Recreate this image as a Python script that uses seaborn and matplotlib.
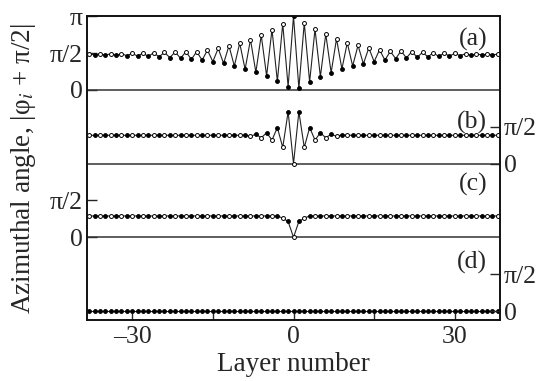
import numpy as np
import pandas as pd
import matplotlib
matplotlib.use("Agg")
import matplotlib.pyplot as plt
import seaborn as sns

# ---------------- data (values in units of pi) ----------------
layers = list(range(-38, 39))

panel_a = [0.485, 0.478, 0.487, 0.475, 0.49, 0.47, 0.493, 0.465, 0.497, 0.46,
           0.50, 0.455, 0.505, 0.45, 0.51, 0.44, 0.515, 0.43, 0.52, 0.415,
           0.52, 0.405, 0.54, 0.385, 0.565, 0.36, 0.60, 0.325, 0.635, 0.28,
           0.685, 0.24, 0.745, 0.19, 0.82, 0.118, 0.90, 0.045,
           1.0,
           0.023, 0.91, 0.11, 0.825, 0.18, 0.76, 0.235, 0.695, 0.285, 0.64,
           0.325, 0.605, 0.355, 0.57, 0.385, 0.545, 0.405, 0.525, 0.425, 0.53,
           0.435, 0.52, 0.445, 0.51, 0.45, 0.505, 0.455, 0.50, 0.46, 0.497,
           0.465, 0.493, 0.47, 0.49, 0.475, 0.487, 0.478, 0.485]

panel_b = [0.385] * 29 + [0.39, 0.37, 0.40, 0.35, 0.42, 0.32, 0.49, 0.22, 0.705,
           0.0,
           0.705, 0.22, 0.49, 0.32, 0.42, 0.35, 0.40, 0.37, 0.39] + [0.385] * 29

panel_c = [0.29] * 36 + [0.26, 0.215, 0.0, 0.215, 0.26] + [0.29] * 36

panel_d = [0.0] * 77

panel_names = ["(a)", "(b)", "(c)", "(d)"]
panel_values = [panel_a, panel_b, panel_c, panel_d]
panel_offsets = [3, 2, 1, 0]

left_ticks = [1, 1.5, 3, 3.5, 4]
left_labels = ["0", "π/2", "0", "π/2", "π"]
right_ticks = [0, 0.5, 2, 2.5]
right_labels = ["0", "π/2", "0", "π/2"]
x_ticks = [-30, -15, 0, 15, 30]
x_labels = ["\u201330", "", "0", "", "30"]

# ---------------- build table ----------------
rows = []
for name, vals, off in zip(panel_names, panel_values, panel_offsets):
    for n, v in zip(layers, vals):
        if name == "(d)":
            filled = True
        elif name == "(a)":
            filled = (n % 2 == 1) or n == 0
        else:
            filled = (n % 2 == 1)
        rows.append(dict(panel=name, layer=n, y=v + off, filled=filled))
df = pd.DataFrame(rows)

# ---------------- style ----------------
sns.set_style("ticks")
plt.rcParams["font.family"] = ["Liberation Serif", "DejaVu Serif"]
plt.rcParams["mathtext.fontset"] = "stix"
FS = 18.5
FSL = 19.5

fig = plt.figure(figsize=(5.4, 3.81), dpi=100)
ax = fig.add_axes([87 / 540, 1 - 320 / 381, 413 / 540, 304 / 381])

for yv in [1, 2, 3]:
    ax.axhline(yv, color="#333333", lw=1.1, zorder=1)

sns.lineplot(data=df, x="layer", y="y", units="panel", estimator=None,
             color="#222222", lw=0.8, ax=ax, legend=False, sort=False, zorder=2)
sns.scatterplot(data=df[df.filled], x="layer", y="y", color="black",
                edgecolor="black", s=8, linewidth=0.6, ax=ax, legend=False, zorder=3)
sns.scatterplot(data=df[~df.filled], x="layer", y="y", color="white",
                edgecolor="black", s=8, linewidth=0.7, ax=ax, legend=False, zorder=3)

ax.set_xlim(-38.4, 38.4)
ax.set_ylim(-0.122, 4.004)
ax.set_xlabel("")
ax.set_ylabel("")

ax.set_xticks(x_ticks)
ax.set_xticklabels(x_labels, fontsize=FS)
ax.tick_params(axis="x", direction="in", length=5, width=1.0, pad=4)

ax.set_yticks(left_ticks)
ax.set_yticklabels(left_labels, fontsize=FS)
ax.tick_params(axis="y", direction="in", length=7, width=1.0, pad=3)

ax2 = ax.twinx()
ax2.set_ylim(ax.get_ylim())
ax2.set_yticks(right_ticks)
ax2.set_yticklabels(right_labels, fontsize=FS)
ax2.tick_params(axis="y", direction="in", length=7, width=1.0, pad=3)
ax2.set_ylabel("")

for a in (ax, ax2):
    for s in a.spines.values():
        s.set_linewidth(1.2)
        s.set_color("#111111")

label_y = {"(a)": 3.68, "(b)": 2.565, "(c)": 1.72, "(d)": 0.665}
for name in panel_names:
    ax.text(0.969, label_y[name], name, transform=ax.get_yaxis_transform(),
            ha="right", va="center", fontsize=FS)

fig.text(24 / 540, 1 - 169 / 381, "Azimuthal angle, |φ$_i$ + π/2|",
         rotation=90, ha="center", va="center", fontsize=FSL)
fig.text(293 / 540, 4 / 381, "Layer number", ha="center", va="bottom",
         fontsize=FSL)

fig.savefig("out.png", dpi=100)
